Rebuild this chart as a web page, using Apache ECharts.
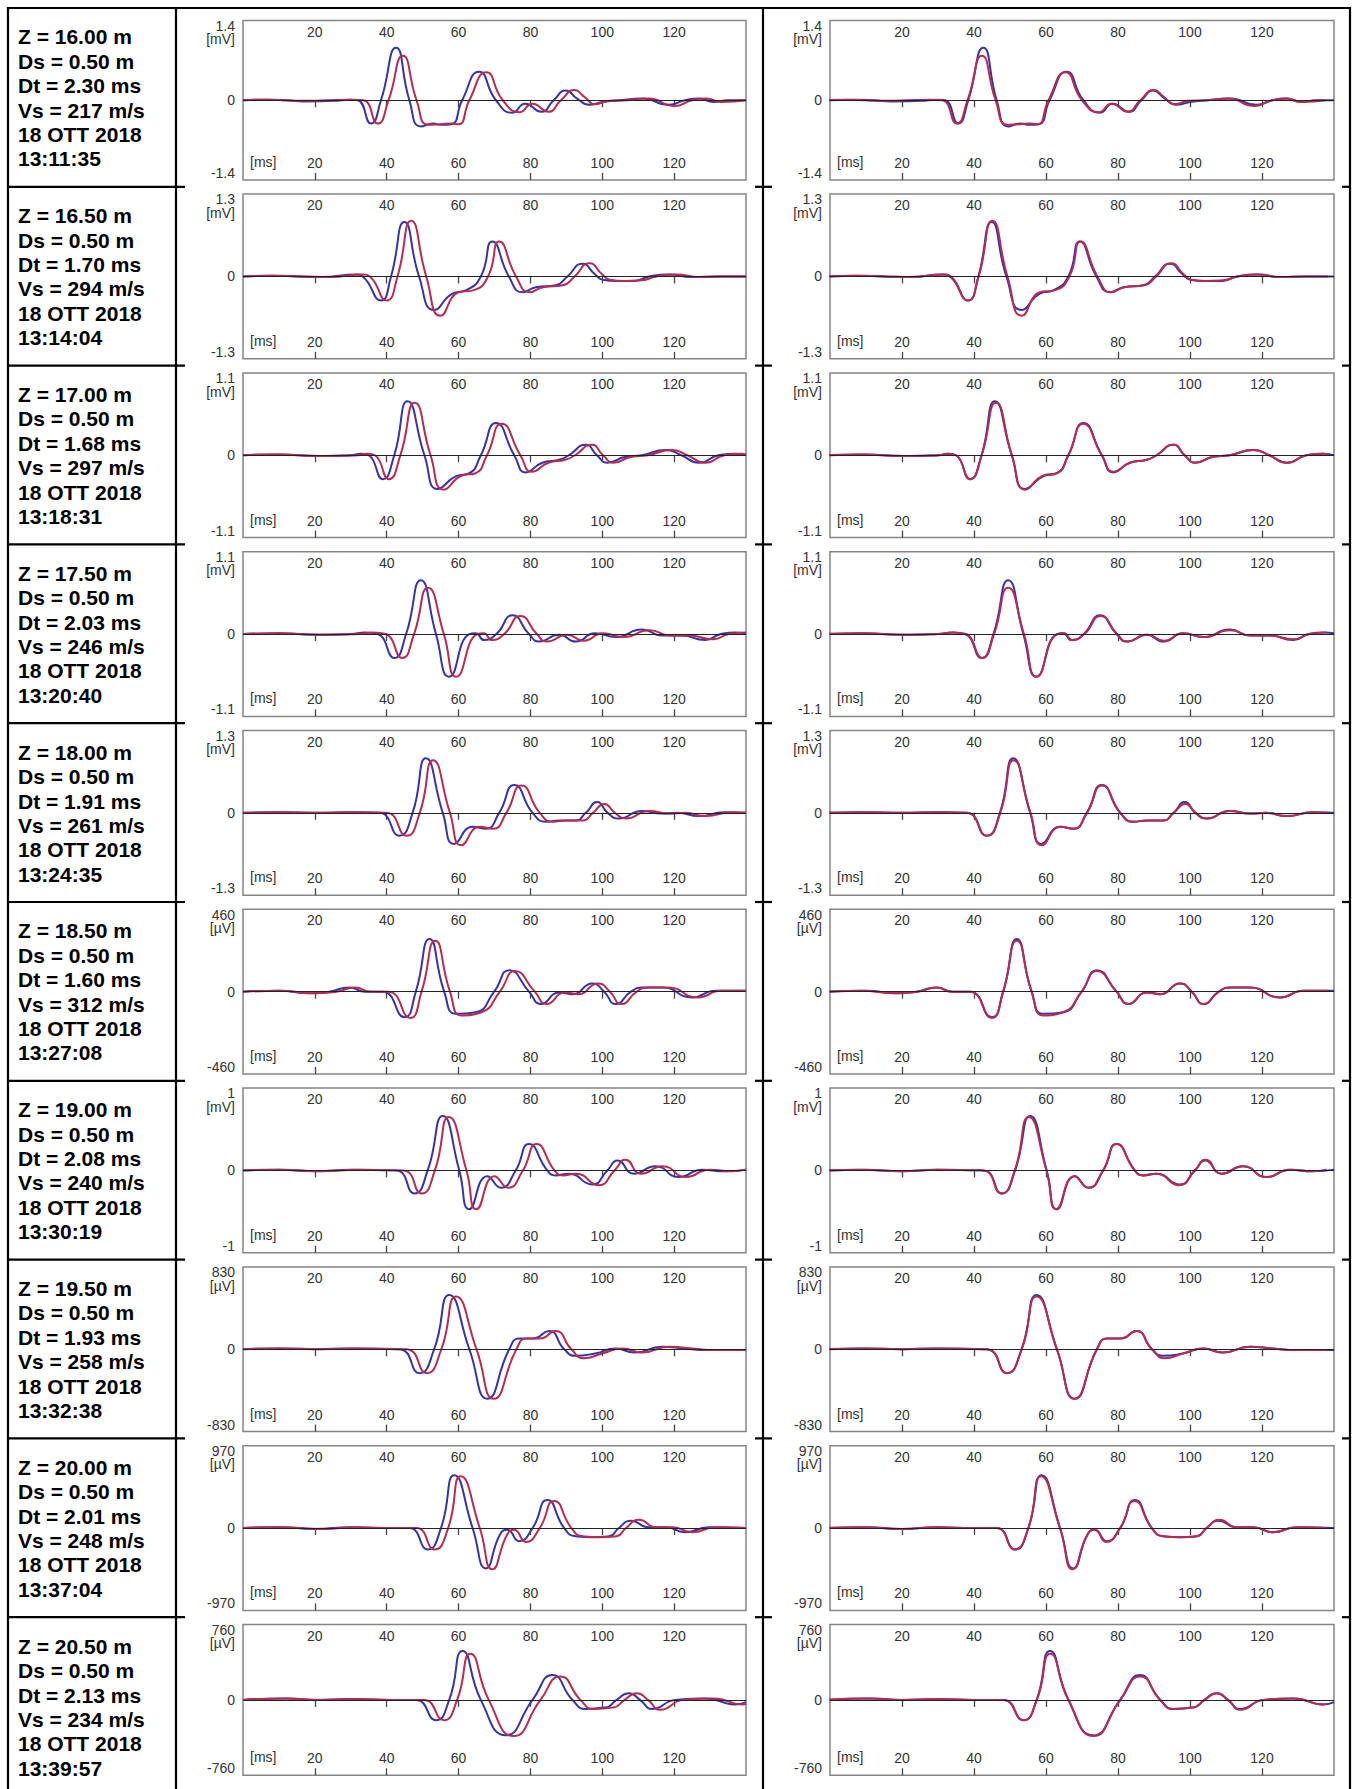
<!DOCTYPE html>
<html>
<head>
<meta charset="utf-8">
<script src="https://cdn.jsdelivr.net/npm/echarts@6/dist/echarts.min.js"></script>
<style>
html,body{margin:0;padding:0;background:#fff;}
#chart{width:1356px;height:1789px;}
</style>
</head>
<body>
<div id="chart"></div>
<script>
// ---------- table texts ----------
const depths = ['16.00','16.50','17.00','17.50','18.00','18.50','19.00','19.50','20.00','20.50'];
const dsValues = ['0.50','0.50','0.50','0.50','0.50','0.50','0.50','0.50','0.50','0.50'];
const dtValues = [2.30, 1.70, 1.68, 2.03, 1.91, 1.60, 2.08, 1.93, 2.01, 2.13];
const vsValues = [217, 294, 297, 246, 261, 312, 240, 258, 248, 234];
const dates = ['18 OTT 2018','18 OTT 2018','18 OTT 2018','18 OTT 2018','18 OTT 2018','18 OTT 2018','18 OTT 2018','18 OTT 2018','18 OTT 2018','18 OTT 2018'];
const clockTimes = ['13:11:35','13:14:04','13:18:31','13:20:40','13:24:35','13:27:08','13:30:19','13:32:38','13:37:04','13:39:57'];
// ---------- axis scales ----------
const fullScale = [1.4, 1.3, 1.1, 1.1, 1.3, 460, 1, 830, 970, 760];
const units = ['mV','mV','mV','mV','mV','µV','mV','µV','µV','µV'];
const timeMin = 0, timeMax = 140, timeStep = 20;

// ---------- traces [ms, value] ----------
const blue1 = [[0,0],[7,0.01],[12,0],[17,-0.02],[25,-0.01],[30,0.01],[32,0],[35.6,-0.41],[38.4,0],[42.6,0.92],[46.3,0],[49.5,-0.46],[53,-0.41],[55,-0.43],[58,-0.42],[61,0],[65.7,0.50],[70.4,0],[75,-0.22],[78.5,-0.06],[83,-0.20],[86.5,0],[89.8,0.17],[93,0.03],[96.3,-0.08],[100,-0.03],[105,0],[111,0.03],[118.5,-0.08],[123,0],[127,0.03],[131,-0.03],[135,0],[140,0]];
const red1 = [[0,0],[7,0.01],[17,-0.01],[30,0.01],[33.5,0],[37.5,-0.41],[40.5,0],[44.5,0.78],[48.3,0],[51.5,-0.43],[55,-0.42],[58,-0.41],[60,-0.42],[63,0],[67.7,0.49],[72.3,0],[77,-0.21],[80.5,-0.06],[85,-0.20],[88.5,0],[92.3,0.18],[95,0.06],[98,-0.07],[102,-0.01],[107,0],[113,0.03],[120,-0.10],[125,0],[129,0.03],[133,-0.03],[140,0]];
const blue2 = [[0,0],[8,0.01],[15,0],[22,-0.01],[31.5,0.03],[33.3,0],[38.4,-0.38],[41.2,0],[44.9,0.86],[49,0],[53.2,-0.53],[58.3,-0.27],[62,-0.22],[66.2,0],[69.4,0.55],[74,0],[77.8,-0.25],[81.5,-0.17],[87,-0.14],[90.3,0],[94.4,0.20],[98,0.03],[100,-0.05],[104,-0.07],[109,-0.07],[113,0],[118.5,0.03],[125,-0.01],[132,0],[140,0]];
const red2 = [[0,0],[8,0.01],[17,0],[24,-0.01],[33.5,0.03],[35.3,0],[40,-0.38],[43,0],[46.8,0.88],[51,0],[55,-0.62],[60,-0.25],[64,-0.22],[68.2,0],[71.3,0.55],[76,0],[79.8,-0.25],[83.5,-0.17],[89,-0.14],[92.3,0],[96.4,0.21],[100,0.03],[102,-0.05],[106,-0.07],[111,-0.06],[115,0],[120.5,0.03],[127,-0.01],[134,0],[140,0]];
const blue3 = [[0,0],[10,0.01],[20,-0.01],[30,0],[32.9,0.02],[35,0],[38.9,-0.32],[42.1,0],[45.8,0.72],[50.5,0],[54.2,-0.45],[59.3,-0.28],[63,-0.24],[66.2,0],[70.4,0.43],[75.5,0],[78.7,-0.23],[83.3,-0.10],[88,-0.06],[90.7,0],[95.4,0.14],[98.5,0],[101.4,-0.10],[106.5,-0.02],[111,0],[117.6,0.07],[122,0],[126.9,-0.10],[132.4,0],[137,0.02],[140,0]];
const red3 = [[0,0],[10,0.01],[22,-0.01],[32,0],[34.6,0.02],[36.7,0],[40.6,-0.32],[43.8,0],[47.8,0.70],[52.2,0],[55.9,-0.46],[61,-0.27],[64.7,-0.24],[67.9,0],[72,0.42],[77.2,0],[80.4,-0.22],[85,-0.10],[89.7,-0.06],[92.4,0],[97.1,0.14],[100.2,0],[103.1,-0.10],[108.2,-0.02],[112.7,0],[119.3,0.07],[123.7,0],[128.6,-0.10],[134,0],[138.7,0.02],[140,0.01]];
const blue4 = [[0,0],[10,0.01],[20,-0.01],[30,0],[34,0.02],[37.5,0],[42.1,-0.32],[45.4,0],[49.5,0.72],[53.7,0],[57.4,-0.57],[63,0],[64.8,0.01],[67.1,-0.08],[70.5,0],[75,0.25],[79.6,0],[82.4,-0.10],[88,-0.01],[92.6,-0.10],[98,0.01],[103.7,-0.04],[111,0.06],[116.7,-0.02],[122,-0.02],[128.7,-0.08],[133,0],[137,0.02],[140,0.01]];
const red4 = [[0,0],[10,0.01],[22,-0.01],[32,0],[36.2,0.02],[39.7,0],[44.3,-0.32],[47.6,0],[51.5,0.62],[55.9,0],[59.4,-0.57],[65.2,0],[67,0.01],[69.3,-0.08],[72.7,0],[77.2,0.24],[81.8,0],[84.6,-0.10],[90.2,-0.01],[94.8,-0.09],[100.2,0.01],[105.9,-0.04],[113.2,0.05],[118.9,-0.02],[124.2,-0.02],[130.9,-0.07],[135.2,0],[140,0.02]];
const blue5 = [[0,0],[10,0.01],[20,0],[30,0.01],[38,0],[43.5,-0.36],[47.2,0],[50.9,0.86],[55.6,0],[58.8,-0.49],[63.9,-0.22],[67.6,-0.25],[71.3,0],[75.5,0.44],[80.6,0],[84.3,-0.14],[88,-0.12],[92.6,-0.12],[95.4,0],[98.6,0.17],[101.5,0],[104.6,-0.09],[111,0.03],[116.7,-0.01],[121,0],[126.9,-0.05],[134,0.01],[140,0]];
const red5 = [[0,0],[10,0.01],[22,0],[32,0.01],[40,0],[45.5,-0.36],[49.2,0],[52.9,0.83],[57.6,0],[60.8,-0.51],[65.9,-0.22],[69.6,-0.25],[73.3,0],[77.5,0.43],[82.6,0],[86.3,-0.14],[90,-0.12],[94.6,-0.12],[97.4,0],[100.6,0.14],[103.5,0],[106.6,-0.09],[113,0.03],[118.7,-0.01],[123,0],[128.9,-0.05],[136,0.01],[140,0]];
const blue6 = [[0,0],[10,5],[18.5,-9],[24,0],[29.6,23],[34,0],[38.9,0],[44.9,-143],[48.1,0],[51.9,294],[56,0],[59.3,-124],[64.8,-115],[69.9,0],[74.1,120],[79.6,0],[82.9,-69],[88,-5],[91.7,-14],[97.2,46],[100.5,0],[103.7,-69],[108,0],[111,23],[116.7,23],[125,-32],[131.5,5],[140,5]];
const red6 = [[0,0],[10,5],[20,-9],[26,0],[31.2,23],[35.6,0],[40.5,0],[46.5,-147],[49.7,0],[53.5,285],[57.6,0],[60.9,-133],[66.4,-115],[71.5,0],[75.7,115],[81.2,0],[84.5,-69],[89.6,-5],[93.3,-14],[98.8,46],[102.1,0],[105.3,-69],[109.6,0],[112.6,23],[118.3,23],[126.6,-32],[133.1,5],[140,5]];
const blue7 = [[0,0],[10,0.01],[20,-0.01],[30,0.01],[42.6,0],[47.7,-0.28],[51.4,0],[55.6,0.66],[60.2,0],[63,-0.47],[68,-0.07],[71.8,-0.21],[75.9,0],[79.6,0.32],[84.7,0],[87,-0.06],[90.7,-0.04],[97.2,-0.17],[101.4,0],[104.2,0.12],[108.8,-0.04],[114.8,0.05],[121.3,-0.08],[127.8,0.01],[134,-0.01],[140,0.01]];
const red7 = [[0,0],[10,0.01],[22,-0.01],[32,0.01],[44.6,0],[49.7,-0.28],[53.4,0],[57.3,0.65],[62.2,0],[65,-0.47],[70,-0.07],[73.8,-0.21],[77.9,0],[81.7,0.32],[86.7,0],[89,-0.06],[92.7,-0.04],[99,-0.18],[103.4,0],[106.4,0.13],[110.8,-0.04],[116.8,0.05],[123.3,-0.08],[129.8,0.01],[136,-0.01],[140,0.01]];
const blue8 = [[0,0],[10,8],[20,0],[30,8],[43.5,0],[49.1,-241],[53.2,0],[57.4,548],[63,0],[68,-498],[74.1,0],[76.9,108],[80.6,108],[85.2,183],[89.4,0],[92.6,-66],[98,-42],[103.7,8],[109,-33],[116.7,25],[123,8],[129.6,-8],[140,-8]];
const red8 = [[0,0],[10,8],[22,0],[32,8],[45.5,0],[51.1,-241],[55.2,0],[59.3,531],[65,0],[69.8,-498],[76.1,0],[78.9,108],[82.6,108],[87,183],[91.4,0],[94.9,-91],[100,-42],[105.7,8],[111,-33],[118.7,25],[125,8],[131.6,-8],[140,-8]];
const blue9 = [[0,0],[10,10],[20,-10],[30,10],[40,0],[46.3,0],[51.4,-252],[55.1,0],[58.8,621],[63.9,0],[67.6,-475],[71.5,-78],[73.5,-19],[76.9,-155],[80.6,0],[84.7,330],[89.4,0],[92.6,-97],[97.2,-107],[101.9,-97],[104.6,0],[107.9,87],[113,10],[117.6,10],[123,-49],[129.6,10],[140,0]];
const red9 = [[0,0],[10,10],[22,-10],[32,10],[42,0],[48.3,0],[53.3,-252],[57.1,0],[60.6,611],[65.9,0],[69.4,-485],[73.5,-78],[75.5,-19],[78.7,-165],[82.6,0],[86.6,320],[91.4,0],[94.6,-97],[99.2,-107],[103.9,-97],[106.6,0],[110.2,97],[115,10],[119.6,10],[125,-49],[131.6,10],[140,0]];
const blue10 = [[0,0],[12,15],[20,0],[30,8],[40,0],[48.1,0],[53.7,-205],[57.4,0],[61.1,494],[66.2,0],[73.1,-357],[80.6,0],[86.1,251],[91.7,0],[95.4,-91],[100.9,-76],[104,0],[107.4,68],[110.5,0],[113.9,-91],[120.4,0],[128.7,15],[137,-46],[140,-23]];
const red10 = [[0,0],[12,15],[22,0],[32,8],[42,0],[50.3,0],[55.9,-205],[59.6,0],[63.3,464],[68.4,0],[75.3,-365],[82.8,0],[88.3,236],[93.9,0],[97.6,-91],[103.1,-76],[106.2,0],[109.6,68],[112.7,0],[116.1,-99],[122.6,0],[130.9,15],[139.2,-46],[140,-40]];

const blueTraces = [blue1,blue2,blue3,blue4,blue5,blue6,blue7,blue8,blue9,blue10];
const redTraces = [red1,red2,red3,red4,red5,red6,red7,red8,red9,red10];

// ---------- layout ----------
const FONT = '"Liberation Sans", Arial, sans-serif';
const ROW0 = 8, ROWH = 178.8;
const PLOT_TOP = 7.3, PLOT_H = 164.7;
const COLS = [{left: 243, width: 503}, {left: 830, width: 504}];
const BLUE = '#3434a8', RED = '#b82a4e';
const TICK_COLOR = '#333';
const TICK_FS = 14;

const grids = [], xAxes = [], yAxes = [], series = [], graphics = [];

function line(x1, y1, x2, y2) {
  graphics.push({type: 'line', silent: true, z: 100,
    shape: {x1, y1, x2, y2}, style: {stroke: '#000', lineWidth: 2.2}});
}

for (let i = 0; i < 10; i++) {
  const top = ROW0 + i * ROWH;
  const A = fullScale[i];
  const unit = units[i];
  graphics.push({
    type: 'text', left: 18, top: top + 90 - 73.2, silent: true,
    style: {
      text: ['Z = ' + depths[i] + ' m', 'Ds = ' + dsValues[i] + ' m', 'Dt = ' + dtValues[i].toFixed(2) + ' ms',
             'Vs = ' + vsValues[i] + ' m/s', dates[i], clockTimes[i]].join('\n'),
      fill: '#000', fontSize: 21, fontWeight: 'bold', fontFamily: FONT, lineHeight: 24.4
    }
  });
  for (let side = 0; side < 2; side++) {
    const g = 2 * i + side;
    grids.push({left: COLS[side].left, width: COLS[side].width, top: top + PLOT_TOP, height: PLOT_H,
      show: true, borderColor: '#858585', borderWidth: 1.5, backgroundColor: '#fff'});
    const common = {
      type: 'value', gridIndex: g, min: timeMin, max: timeMax, interval: timeStep,
      axisLine: {show: false}, splitLine: {show: false},
      axisTick: {show: true, inside: true, length: 7, lineStyle: {color: '#444', width: 1.3}}
    };
    const lab = {inside: true, color: TICK_COLOR, fontSize: TICK_FS, fontFamily: FONT,
      showMinLabel: false, showMaxLabel: false};
    xAxes.push(Object.assign({}, common, {position: 'top',
      axisLabel: Object.assign({}, lab, {margin: 4})}));
    xAxes.push(Object.assign({}, common, {position: 'bottom',
      axisLabel: Object.assign({}, lab, {margin: 10}),
      name: '[ms]', nameLocation: 'start', nameGap: -7,
      nameTextStyle: {align: 'left', verticalAlign: 'bottom', padding: [0, 0, 11, 0],
        color: TICK_COLOR, fontSize: TICK_FS, fontFamily: FONT}}));
    const lbl = String(A);
    yAxes.push({
      type: 'value', gridIndex: g, min: -A, max: A, interval: A,
      axisLine: {show: false}, axisTick: {show: false}, splitLine: {show: false},
      axisLabel: {
        margin: 8, color: TICK_COLOR, fontSize: TICK_FS, fontFamily: FONT,
        formatter: function (v) {
          if (Math.abs(v - A) < A * 1e-6) return '{g| }\n{t|' + lbl + '}\n{t|[' + unit + ']}';
          if (Math.abs(v + A) < A * 1e-6) return '{t|-' + lbl + '}\n{h| }';
          if (Math.abs(v) < A * 1e-6) return '{t|0}';
          return '';
        },
        rich: {
          g: {lineHeight: 24, fontSize: TICK_FS},
          t: {lineHeight: 13.5, fontSize: TICK_FS, color: TICK_COLOR, fontFamily: FONT, align: 'right'},
          h: {lineHeight: 14, fontSize: TICK_FS}
        }
      }
    });
    const shift = side === 1 ? dtValues[i] : 0;
    const redData = redTraces[i].map(p => [Math.round((p[0] - shift) * 100) / 100, p[1]]);
    const base = {type: 'line', xAxisIndex: 2 * g + 1, yAxisIndex: g, smooth: 0.55,
      showSymbol: false, symbol: 'none', clip: true, animation: false, silent: true};
    series.push(Object.assign({}, base, {
      data: redData, lineStyle: {color: RED, width: 2}, z: 3,
      markLine: {silent: true, symbol: 'none', animation: false, label: {show: false},
        lineStyle: {color: '#222', width: 1.2, type: 'solid'}, data: [{yAxis: 0}]}
    }));
    series.push(Object.assign({}, base, {
      data: blueTraces[i], lineStyle: {color: BLUE, width: 2}, z: 2
    }));
  }
  if (i > 0) {
    line(8, top, 185, top);
    line(755, top, 772, top);
    line(1342, top, 1350, top);
  }
}
line(7, ROW0, 1351, ROW0);
line(8, ROW0 - 1, 8, 1789);
line(176, ROW0 - 1, 176, 1789);
line(763, ROW0 - 1, 763, 1789);
line(1350, ROW0 - 1, 1350, 1789);

const chart = echarts.init(document.getElementById('chart'), null, {renderer: 'svg'});
chart.setOption({
  animation: false,
  backgroundColor: '#fff',
  grid: grids,
  xAxis: xAxes,
  yAxis: yAxes,
  series: series,
  graphic: graphics
});
</script>
</body>
</html>
